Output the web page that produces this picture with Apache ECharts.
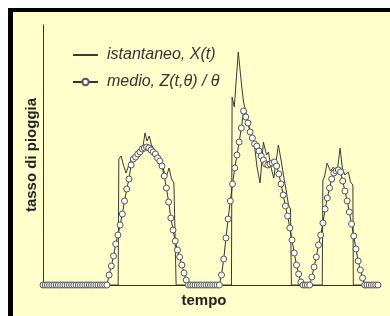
<!DOCTYPE html>
<html>
<head>
<meta charset="utf-8">
<script src="https://cdn.jsdelivr.net/npm/echarts@6/dist/echarts.min.js"></script>
<style>
html, body { margin: 0; padding: 0; background: #fff; overflow: hidden; }
#frame {
  position: absolute; left: 8px; top: 8px; width: 382px; height: 308px;
  box-sizing: border-box;
  background: #ffffcc;
  border-left: 5px solid #000;
  border-top: 4px solid #000;
}
#chart { position: absolute; left: 0; top: 0; width: 390px; height: 316px; }
</style>
</head>
<body>
<div id="frame"></div>
<div id="chart"></div>
<script>
// mean rate Z(t,θ)/θ, one value per time step (index = step)
const meanRate = [
  0, 0, 0, 0, 0, 0, 0, 0, 0, 0, 0, 0, 0, 0, 0, 0, 0, 0, 0, 0, 0, 0, 0, 0, 0, 0, 0, 0, 0, 0,
  10, 19, 29, 41, 50, 60, 71, 84, 96, 106,
  120, 126, 128, 131, 133, 136, 137, 138, 137, 135,
  133, 131, 127, 124, 119, 109, 97, 83, 67, 55,
  44, 35, 28, 20, 12, 5,
  0, 0, 0, 0, 0, 0, 0, 0, 0, 0, 0, 0, 0, 0, 0,
  10, 26, 47, 66, 84, 101, 117, 130, 143, 157,
  174, 168, 162, 153, 147, 141, 139, 134, 129, 125,
  121, 120, 121, 122, 123, 119, 111, 101, 90, 79,
  69, 57, 45, 32, 20, 11, 3,
  0, 0, 0, 0,
  8, 18, 28, 40, 50, 62, 76, 87, 97, 106,
  112, 114, 115, 113, 104, 94, 84, 73, 61, 49,
  36, 24, 15, 7,
  0, 0, 0, 0, 0, 0, 0
];

// instantaneous rate X(t): time and value at each break point
const instTime = [
  0, 34.1, 34.4, 35.4, 36.5, 37.7, 38.8, 39.9, 41.3, 42.6, 44.0, 45.4, 46.3, 47.2, 48.2, 49.2,
  50.4, 51.7, 53.1, 54.4, 55.6, 57.2, 58.3, 59.4, 60.1, 60.4,
  85.5, 85.8, 86.8, 88.6, 90.2, 91.0, 92.6, 94.1, 95.3, 96.2, 97.1, 98.5, 100.0, 101.4,
  102.3, 103.4, 104.7, 106.8, 108.1, 109.1, 110.3, 111.4, 112.3, 112.7,
  126.7, 127.0, 127.7, 128.9, 130.4, 131.8, 133.4, 134.8, 135.8, 137.0, 138.6, 139.5, 140.6, 140.8,
  152
];
const instRate = [
  0, 0, 126, 129, 120, 112, 119, 125, 127, 130, 134, 139, 152, 144, 149, 140,
  136, 131, 125, 119, 106, 117, 106, 102, 100, 0,
  0, 188, 178, 233, 198, 183, 168, 152, 145, 135, 118, 102, 143, 130,
  133, 118, 107, 140, 124, 110, 95, 80, 76, 0,
  0, 105, 108, 122, 114, 118, 112, 137, 117, 110, 113, 103, 100, 0,
  0
];

const timeMax = 152;
const rateMax = 260;

const chart = echarts.init(document.getElementById('chart'));

const meanData = meanRate.map(function (v, i) { return [i, v]; });
const instData = instTime.map(function (t, i) { return [t, instRate[i]]; });

const titleFont = {
  fontFamily: 'Liberation Sans',
  fontWeight: 'bold',
  fontSize: 15,
  color: '#222'
};

const option = {
  animation: false,
  backgroundColor: 'transparent',
  grid: { left: 43, right: 12, top: 25, bottom: 31 },
  legend: {
    orient: 'vertical',
    left: 72,
    top: 47,
    padding: 0,
    itemWidth: 25,
    itemHeight: 8,
    itemGap: 11,
    textStyle: {
      fontFamily: 'Liberation Sans',
      fontStyle: 'italic',
      fontSize: 16,
      color: '#333',
      padding: [0, 0, 0, 4]
    },
    data: [
      { name: 'istantaneo, X(t)', itemStyle: { opacity: 0 } },
      { name: 'medio, Z(t,θ) / θ' }
    ]
  },
  xAxis: {
    type: 'value',
    min: 0,
    max: timeMax,
    name: 'tempo',
    nameLocation: 'middle',
    nameGap: 8,
    nameTextStyle: Object.assign({ padding: [0, 13, 0, 0] }, titleFont),
    axisLine: { show: true, lineStyle: { color: '#333', width: 1 } },
    axisTick: { show: false },
    axisLabel: { show: false },
    splitLine: { show: false }
  },
  yAxis: {
    type: 'value',
    min: 0,
    max: rateMax,
    name: 'tasso di pioggia',
    nameLocation: 'middle',
    nameGap: 4,
    nameTextStyle: titleFont,
    axisLine: { show: true, lineStyle: { color: '#333', width: 1 } },
    axisTick: { show: false },
    axisLabel: { show: false },
    splitLine: { show: false }
  },
  series: [
    {
      name: 'istantaneo, X(t)',
      type: 'line',
      data: instData,
      symbol: 'none',
      lineStyle: { color: '#3a3a3a', width: 1 },
      itemStyle: { color: '#3a3a3a' },
      z: 2
    },
    {
      name: 'medio, Z(t,θ) / θ',
      type: 'line',
      data: meanData,
      symbol: 'circle',
      symbolSize: 6,
      showAllSymbol: true,
      lineStyle: { color: '#333', width: 1 },
      itemStyle: { color: '#fff', borderColor: '#555', borderWidth: 1 },
      z: 3
    }
  ]
};

chart.setOption(option);
</script>
</body>
</html>
